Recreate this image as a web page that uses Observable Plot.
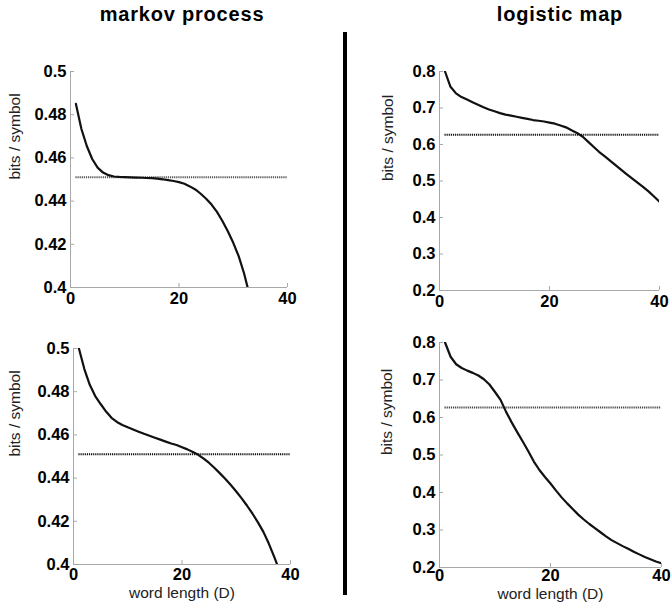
<!DOCTYPE html>
<html><head><meta charset="utf-8">
<script src="https://cdn.jsdelivr.net/npm/d3@7"></script>
<script src="https://cdn.jsdelivr.net/npm/@observablehq/plot@0.6"></script>
<style>
body{margin:0;background:#fff;}
#wrap{position:relative;width:671px;height:610px;overflow:hidden;background:#fff;font-family:"Liberation Sans",Arial,Helvetica,sans-serif;}
.title{position:absolute;top:4px;font-size:20px;font-weight:bold;letter-spacing:0.8px;text-align:center;line-height:20px;color:#000;white-space:nowrap;}
.panel{position:absolute;}
#divider{position:absolute;left:343px;top:32px;width:4px;height:563px;background:#000;}
</style></head><body>
<div id="wrap">
  <div class="title" style="left:82px;width:200px">markov process</div>
  <div class="title" style="left:460px;width:200px">logistic map</div>
  <div id="divider"></div>
</div>
<script>
// ---- data ----
const wordLength = [1,2,3,4,5,6,7,8,9,10,11,12,13,14,15,16,17,18,19,20,21,22,23,24,25,26,27,28,29,30,31,32,33,34,35,36,37,38,39,40];
const markovTop = [0.485,0.4735,0.4655,0.4595,0.4555,0.4532,0.452,0.4514,0.4512,0.4511,0.451,0.4509,0.4508,0.4507,0.4506,0.4504,0.4501,0.4497,0.4493,0.4488,0.448,0.4468,0.4454,0.4434,0.4411,0.4384,0.435,0.4308,0.426,0.4207,0.4145,0.4065,0.3965,0.386];
const markovBottom = [0.5,0.4905,0.4832,0.478,0.4743,0.4708,0.4679,0.466,0.4646,0.4635,0.4625,0.4615,0.4605,0.4596,0.4587,0.4578,0.4569,0.456,0.4553,0.4543,0.4533,0.4521,0.4508,0.449,0.447,0.4447,0.4422,0.4396,0.4368,0.4338,0.4306,0.4272,0.4235,0.4195,0.4151,0.4097,0.4035,0.397,0.39,0.3825];
const logisticTop = [0.8,0.758,0.74,0.73,0.723,0.716,0.709,0.702,0.696,0.691,0.686,0.682,0.679,0.676,0.673,0.67,0.667,0.665,0.663,0.66,0.657,0.652,0.647,0.639,0.6315,0.622,0.608,0.594,0.58,0.568,0.556,0.5435,0.531,0.519,0.507,0.4955,0.484,0.4715,0.4575,0.443];
const logisticBottom = [0.8,0.762,0.742,0.732,0.725,0.719,0.712,0.702,0.688,0.668,0.647,0.615,0.587,0.561,0.536,0.51,0.4825,0.46,0.4415,0.424,0.405,0.387,0.371,0.356,0.341,0.328,0.316,0.305,0.294,0.283,0.273,0.265,0.257,0.25,0.242,0.235,0.228,0.222,0.216,0.211];
const markovRate = 0.451;
const logisticRate = 0.627;
const xTicks = [0, 20, 40];
const markovYTicks = [0.4, 0.42, 0.44, 0.46, 0.48, 0.5];
const logisticYTicks = [0.2, 0.3, 0.4, 0.5, 0.6, 0.7, 0.8];
const yLabel = "bits / symbol";
const xLabel = "word length (D)";

// ---- drawing ----
const axisGray = "#a8a8a8";
const font = "'Liberation Sans', Arial, Helvetica, sans-serif";

function panel(c) {
  const data = c.H.map((h, i) => ({D: wordLength[i], H: h}));
  const fw = c.width - c.ml - c.mr, fh = c.height - c.mt - c.mb;
  const rate = [{y: c.rate, x1: wordLength[0], x2: wordLength[wordLength.length - 1]}];
  const marks = [
    Plot.ruleX([xTicks[0]], {stroke: axisGray, strokeWidth: 1}),
    Plot.ruleY([c.yTicks[0]], {stroke: axisGray, strokeWidth: 1}),
    Plot.tickX(xTicks, {x: d => d, stroke: axisGray, insetTop: fh - 4}),
    Plot.tickY(c.yTicks, {y: d => d, stroke: axisGray, insetRight: fw - 4}),
    Plot.axisX(xTicks, {tickSize: 0, tickPadding: c.xpad, fontSize: 16.5, fontWeight: "bold", fill: "#000", label: null, tickFormat: d => String(d)}),
    Plot.axisY(c.yTicks, {tickSize: 0, tickPadding: 4, fontSize: 16.5, fontWeight: "bold", fill: "#000", label: null, tickFormat: d => String(d)}),
    Plot.ruleY(rate, {y: "y", x1: "x1", x2: "x2", stroke: c.rateColor, strokeWidth: 2, strokeDasharray: "1.2,0.9"}),
    Plot.line(data, {x: "D", y: "H", stroke: "#111", strokeWidth: 2.2, clip: true}),
    Plot.text([yLabel], {text: d => d, frameAnchor: "left", dx: c.ylabelDx, rotate: -90, fontSize: 15.5, fill: "#222"})
  ];
  if (c.xlabelDy != null) {
    marks.push(Plot.text([xLabel], {text: d => d, frameAnchor: "bottom", dy: c.xlabelDy, fontSize: 15.5, fill: "#222"}));
  }
  const svg = Plot.plot({
    width: c.width, height: c.height,
    marginLeft: c.ml, marginRight: c.mr, marginTop: c.mt, marginBottom: c.mb,
    x: {domain: [0, 40]},
    y: {domain: [c.yTicks[0], c.yTicks[c.yTicks.length - 1]]},
    style: {background: "transparent", fontFamily: font, overflow: "visible", color: "#000"},
    marks
  });
  svg.classList.add("panel");
  svg.style.left = c.left + "px";
  svg.style.top = c.top + "px";
  svg.style.position = "absolute";
  document.getElementById("wrap").appendChild(svg);
}

panel({H: markovTop, rate: markovRate, yTicks: markovYTicks, rateColor: "#555",
  left: 0, top: 40, width: 335, height: 290, ml: 70, mr: 48, mt: 31, mb: 43, xpad: 5, ylabelDx: -55});
panel({H: markovBottom, rate: markovRate, yTicks: markovYTicks, rateColor: "#111",
  left: 0, top: 330, width: 335, height: 280, ml: 73, mr: 45, mt: 18, mb: 46, xpad: 4, ylabelDx: -58, xlabelDy: 33});
panel({H: logisticTop, rate: logisticRate, yTicks: logisticYTicks, rateColor: "#111",
  left: 350, top: 40, width: 321, height: 290, ml: 89, mr: 12, mt: 31, mb: 40, xpad: 5, ylabelDx: -51.5});
panel({H: logisticBottom, rate: logisticRate, yTicks: logisticYTicks, rateColor: "#444",
  left: 350, top: 330, width: 321, height: 280, ml: 89, mr: 10, mt: 12, mb: 43, xpad: 2, ylabelDx: -52.5, xlabelDy: 31});
</script>
</body></html>
